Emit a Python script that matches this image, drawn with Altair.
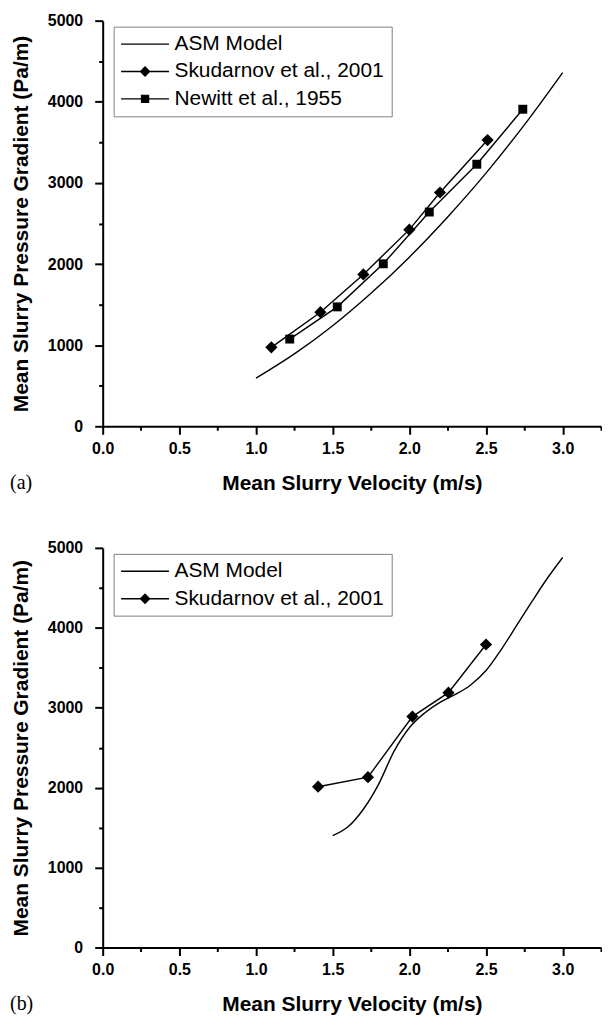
import altair as alt
import pandas as pd

# ---------------- data ----------------
# Panel (a)
asm_a_v = [1.0, 1.25, 1.5, 1.75, 2.0, 2.25, 2.5, 2.75, 3.0]
asm_a_p = [593, 892, 1240, 1640, 2085, 2580, 3120, 3715, 4360]
sku_a_v = [1.10, 1.42, 1.70, 2.00, 2.20, 2.51]
sku_a_p = [973, 1406, 1872, 2424, 2882, 3528]
new_a_v = [1.22, 1.53, 1.83, 2.13, 2.44, 2.74]
new_a_p = [1075, 1472, 2003, 2641, 3230, 3908]

# Panel (b)
asm_b_v = [1.5, 1.6, 1.7, 1.8, 1.9, 2.0, 2.1, 2.2, 2.3, 2.4, 2.5, 2.6, 2.7, 2.8, 2.9, 3.0]
asm_b_p = [1400, 1510, 1730, 2045, 2455, 2750, 2935, 3068, 3168, 3285, 3465, 3730, 4030, 4330, 4620, 4880]
sku_b_v = [1.405, 1.73, 2.02, 2.255, 2.50]
sku_b_p = [2012, 2131, 2889, 3189, 3791]

ASM = "ASM Model"
SKU = "Skudarnov et al., 2001"
NEW = "Newitt et al., 1955"

x_ticks = [0.0, 0.25, 0.5, 0.75, 1.0, 1.25, 1.5, 1.75, 2.0, 2.25, 2.5, 2.75, 3.0, 3.25]
y_ticks = [0, 500, 1000, 1500, 2000, 2500, 3000, 3500, 4000, 4500, 5000]

FONT = "Liberation Sans"
W = 500

# legend symbols drawn as filled paths (unit = sqrt(size)/2 = 7px):
# thin bar = line segment, plus diamond / square marker
BAR = "M-3.43,-0.1H3.43V0.1H-3.43Z"
P_LINE = BAR
P_DIAM = BAR + "M0,-0.78L0.78,0L0,0.78L-0.78,0Z"
P_SQR = BAR + "M-0.6,-0.6H0.6V0.6H-0.6Z"


def df(v, p, s):
    return pd.DataFrame({"v": v, "p": p, "series": s})


def xy():
    x = alt.X(
        "v:Q",
        scale=alt.Scale(domain=[0, 3.25], nice=False, zero=False),
        axis=alt.Axis(
            title="Mean Slurry Velocity (m/s)",
            values=x_ticks,
            format=".1f",
            labelExpr="datum.value % 0.5 === 0 ? datum.label : ''",
            tickSize={"condition": {"test": "datum.value % 0.5 !== 0", "value": 4}, "value": 8},
            labelPadding=6,
            titlePadding=16,
            labelFlush=False,
            labelOverlap=False,
        ),
    )
    y = alt.Y(
        "p:Q",
        scale=alt.Scale(domain=[0, 5000], nice=False),
        axis=alt.Axis(
            title="Mean Slurry Pressure Gradient (Pa/m)",
            values=y_ticks,
            format="d",
            labelExpr="datum.value % 1000 === 0 ? datum.label : ''",
            tickSize={"condition": {"test": "datum.value % 1000 !== 0", "value": 4}, "value": 8},
            labelPadding=12,
            titlePadding=16,
            labelFlush=False,
            labelOverlap=False,
        ),
    )
    return x, y


def panel(asm_df, series, leg_domain, leg_range, label, h):
    x, y = xy()
    layers = [
        alt.Chart(asm_df).mark_line(color="black", strokeWidth=1.4, interpolate="monotone").encode(x=x, y=y)
    ]
    for d, shape, size in series:
        layers.append(alt.Chart(d).mark_line(color="black", strokeWidth=1.4).encode(x=x, y=y))
        layers.append(
            alt.Chart(d).mark_point(shape=shape, filled=True, size=size, color="black", opacity=1).encode(x=x, y=y)
        )
    all_df = pd.concat([asm_df] + [s[0] for s in series])
    layers.append(
        alt.Chart(all_df)
        .mark_point(opacity=0, size=196, filled=True, color="black")
        .encode(
            x=x,
            y=y,
            shape=alt.Shape(
                "series:N",
                scale=alt.Scale(domain=leg_domain, range=leg_range),
                legend=alt.Legend(
                    title=None,
                    orient="none",
                    legendX=11,
                    legendY=6,
                    padding=7,
                    rowPadding=5.5,
                    strokeColor="#808080",
                    fillColor="white",
                    labelFont=FONT,
                    labelFontSize=21,
                    labelColor="black",
                    labelLimit=400,
                    symbolOffset=14,
                    labelOffset=19,
                    symbolSize=196,
                    symbolOpacity=1,
                    symbolFillColor="black",
                ),
            ),
        )
    )
    layers.append(
        alt.Chart(pd.DataFrame({"t": [label]}))
        .mark_text(font="Liberation Serif", fontSize=20, align="left", baseline="middle", color="black")
        .encode(text="t:N", x=alt.value(-93), y=alt.value(h + 57))
    )
    return alt.layer(*layers).properties(width=W, height=h)


top = panel(
    df(asm_a_v, asm_a_p, ASM),
    [(df(sku_a_v, sku_a_p, SKU), "diamond", 150), (df(new_a_v, new_a_p, NEW), "square", 80)],
    [ASM, SKU, NEW],
    [P_LINE, P_DIAM, P_SQR],
    "(a)",
    407,
)
bottom = panel(
    df(asm_b_v, asm_b_p, ASM),
    [(df(sku_b_v, sku_b_p, SKU), "diamond", 150)],
    [ASM, SKU],
    [P_LINE, P_DIAM],
    "(b)",
    401,
)

chart = (
    alt.vconcat(top, bottom, spacing=47)
    .resolve_scale(shape="independent")
    .properties(padding={"left": 2, "top": 3, "right": 0, "bottom": 0})
    .configure_view(stroke=None)
    .configure_axis(
        grid=False,
        domainColor="black",
        domainWidth=2,
        tickColor="black",
        tickWidth=2,
        labelFont=FONT,
        labelFontSize=16,
        labelFontWeight="bold",
        labelColor="black",
        titleFont=FONT,
        titleFontSize=21,
        titleFontWeight="bold",
        titleColor="black",
    )
)

chart.save("out.html", embed_options={"renderer": "svg", "actions": False})
